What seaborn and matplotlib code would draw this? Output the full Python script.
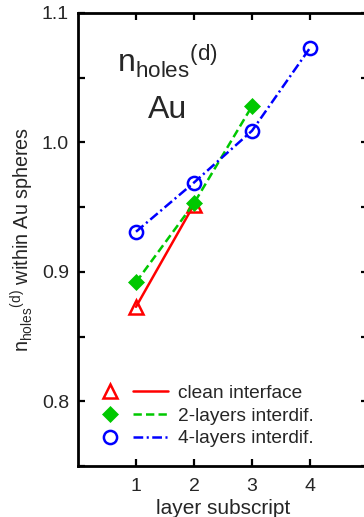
import matplotlib
matplotlib.use("Agg")
import matplotlib.pyplot as plt
import seaborn as sns
from matplotlib.lines import Line2D
from matplotlib.legend_handler import HandlerTuple
from matplotlib.ticker import MultipleLocator

# hole counts per layer for the three interface models
layers_clean = [1, 2]
clean_interface = [0.873, 0.952]
layers_2 = [1, 2, 3]
interdif_2 = [0.892, 0.953, 1.028]
layers_4 = [1, 2, 3, 4]
interdif_4 = [0.931, 0.969, 1.009, 1.073]
series_labels = ["clean interface", "2-layers interdif.", "4-layers interdif."]
x_ticks = [1, 2, 3, 4]
y_ticks = [0.8, 0.9, 1.0, 1.1]

sns.set_style("ticks")
plt.rcParams["font.family"] = ["Liberation Sans", "DejaVu Sans"]
plt.rcParams["mathtext.default"] = "regular"
plt.rcParams["lines.scale_dashes"] = False

RED, GREEN, BLUE = "#ff0000", "#00c800", "#0000ff"
LW = 1.8
styles = [
    dict(color=RED, marker="^", markersize=9.5, markerfacecolor="none",
         markeredgecolor=RED, markeredgewidth=1.8, linestyle="-"),
    dict(color=GREEN, marker="D", markersize=8, markerfacecolor=GREEN,
         markeredgecolor=GREEN, markeredgewidth=0.5, linestyle=(0, (6, 3))),
    dict(color=BLUE, marker="o", markersize=9.5, markerfacecolor="none",
         markeredgecolor=BLUE, markeredgewidth=1.8,
         linestyle=(0, (7, 2.5, 1.5, 2.5))),
]
series = [(layers_clean, clean_interface), (layers_2, interdif_2),
          (layers_4, interdif_4)]

fig = plt.figure(figsize=(3.64, 5.17), dpi=100)
# the frame runs to x = 5, just past the right edge of the canvas
ax = fig.add_axes([0.2143, 0.0986, 0.7967, 0.8763])

for (xs, ys), st in zip(series, styles):
    sns.lineplot(x=xs, y=ys, ax=ax, linewidth=LW, errorbar=None,
                 sort=False, legend=False, **st)

ax.set_xlim(0, 5)
ax.set_ylim(0.75, 1.1)
ax.set_xticks(x_ticks)
ax.set_yticks(y_ticks)
ax.yaxis.set_minor_locator(MultipleLocator(0.05))
ax.tick_params(which="both", direction="in", length=5, width=1.6,
               top=True, right=True, color="black")
ax.tick_params(axis="y", which="major", pad=6.5, labelsize=14)
ax.tick_params(axis="x", which="major", pad=8.5, labelsize=14)
for sp in ax.spines.values():
    sp.set_linewidth(2)
    sp.set_color("black")

ax.set_xlabel("layer subscript", fontsize=15, labelpad=3)
ax.set_ylabel(r"${n_{holes}}^{(d)}$ within Au spheres", fontsize=14.2,
              labelpad=4.5)

ax.text(0.134, 0.8675, r"${n_{holes}}^{(d)}$", transform=ax.transAxes,
        fontsize=23, ha="left", va="baseline")
ax.text(0.31, 0.768, "Au", transform=ax.transAxes, fontsize=23,
        ha="center", va="baseline")

# legend entries: marker on the left, line sample on the right
handles = []
for st in styles:
    mk = Line2D([], [], linestyle="none", marker=st["marker"],
                markersize=st["markersize"],
                markerfacecolor=st["markerfacecolor"],
                markeredgecolor=st["markeredgecolor"],
                markeredgewidth=st["markeredgewidth"])
    ln = Line2D([], [], color=st["color"], linestyle=st["linestyle"],
                linewidth=LW)
    handles.append((mk, ln))

ax.legend(handles, series_labels,
          handler_map={tuple: HandlerTuple(ndivide=2, pad=0.29)},
          loc="upper left", bbox_to_anchor=(0.05, 0.180),
          frameon=False, borderpad=0, borderaxespad=0,
          handlelength=3.94, handletextpad=0.5, labelspacing=0.28,
          fontsize=13.8, numpoints=1)

fig.savefig("out.png", dpi=100)
